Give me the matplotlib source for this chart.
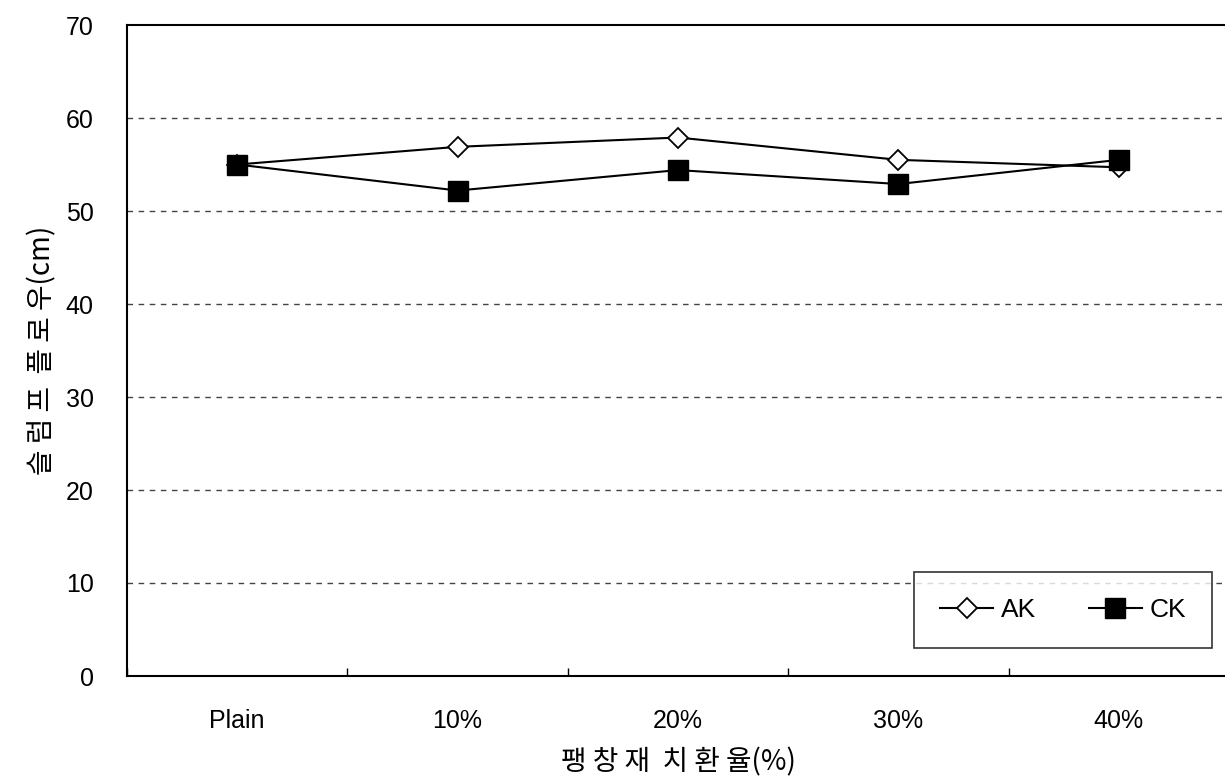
import matplotlib

matplotlib.use("Agg")
import matplotlib.pyplot as plt

plt.rcParams["font.family"] = ["Liberation Sans", "Noto Sans CJK KR", "DejaVu Sans"]

categories = ["Plain", "10%", "20%", "30%", "40%"]
ak_values = [55.0, 56.9, 57.9, 55.5, 54.7]
ck_values = [55.0, 52.2, 54.4, 52.9, 55.5]
y_ticks = [0, 10, 20, 30, 40, 50, 60, 70]

fig = plt.figure(figsize=(12.25, 7.79), dpi=100)
ax = fig.add_axes([127 / 1225, 1 - 676 / 779, (1229 - 127) / 1225, (676 - 25) / 779])

x = list(range(len(categories)))
ax.plot(x, ak_values, color="black", lw=1.5, marker="D", markersize=10,
        markerfacecolor="white", markeredgecolor="black", markeredgewidth=1.3,
        label="AK", zorder=3)
ax.plot(x, ck_values, color="black", lw=1.5, marker="s", markersize=14,
        markerfacecolor="black", markeredgecolor="black", label="CK", zorder=3)

ax.set_xlim(-0.5, len(categories) - 0.5)
ax.set_ylim(0, 70)
ax.set_yticks(y_ticks)
ax.set_xticks(x)
ax.set_xticklabels(categories)
ax.set_xticks([i - 0.5 for i in range(len(categories) + 1)], minor=True)
ax.tick_params(axis="x", which="major", length=0, pad=24, labelsize=18)
ax.tick_params(axis="x", which="minor", length=6, direction="in", width=1)
ax.tick_params(axis="y", length=0, pad=24, labelsize=18)

for y in y_ticks[1:-1]:
    ax.axhline(y, color="#444444", lw=1, ls=(0, (4, 4)), zorder=1)

for spine in ax.spines.values():
    spine.set_linewidth(1.5)

ax.set_xlabel("팽 창 재  치 환 율(%)", fontsize=20,
              family=["Noto Sans CJK KR", "DejaVu Sans"], labelpad=10)
ax.set_ylabel("슬 럼 프  플 로 우(cm)", fontsize=20,
              family=["Noto Sans CJK KR", "DejaVu Sans"], labelpad=6)

leg = ax.legend(loc="lower right", ncol=2, fontsize=19, frameon=True, fancybox=False,
                edgecolor="black", handlelength=2.0, handletextpad=0.3,
                columnspacing=2.0, borderpad=1.0, bbox_to_anchor=(0.997, 0.022))
leg.get_frame().set_linewidth(1.2)

fig.savefig("out.png", dpi=100)
